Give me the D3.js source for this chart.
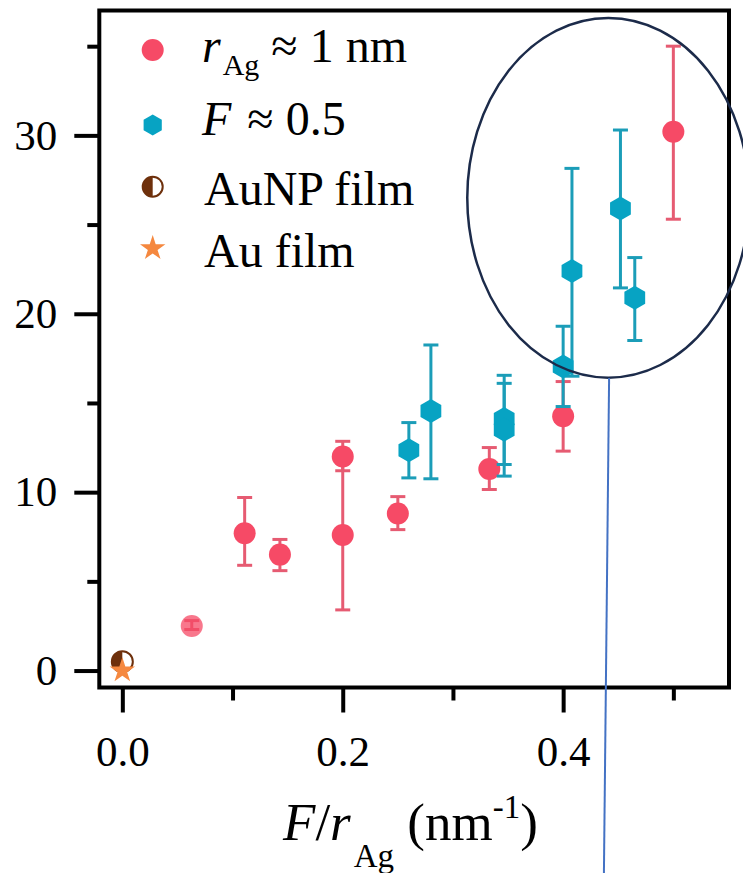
<!doctype html>
<html>
<head>
<meta charset="utf-8">
<style>
    body { margin: 0; background: #fff; }
    text { font-family: "Liberation Serif", "Times New Roman", serif; fill: #000; }
</style>
<script src="https://d3js.org/d3.v7.min.js"></script>
</head>
<body>
<svg width="743" height="873"></svg>
<script>
// r_Ag ~ 1 nm series
var redX  = [0.063, 0.111, 0.143, 0.2, 0.2, 0.25, 0.333, 0.4, 0.5];
var redY  = [2.5, 7.7, 6.5, 12.0, 7.6, 8.8, 11.3, 14.25, 30.2];
var redLo = [2.3, 5.9, 5.6, 11.2, 3.4, 7.9, 10.15, 12.3, 25.3];
var redHi = [2.8, 9.7, 7.35, 12.85, 11.8, 9.75, 12.5, 16.2, 35.0];

// F ~ 0.5 series
var blueX  = [0.26, 0.28, 0.3465, 0.3465, 0.4, 0.408, 0.452, 0.465];
var blueY  = [12.35, 14.55, 14.1, 13.5, 17.05, 22.4, 25.9, 20.9];
var blueLo = [10.8, 10.75, 11.55, 10.9, 14.8, 16.5, 21.45, 18.5];
var blueHi = [13.9, 18.25, 16.55, 16.1, 19.3, 28.15, 30.3, 23.15];

// reference films
var auNP = [0, 0.5];
var auFilm = [0, 0.0];

var xMajor = [0, 0.2, 0.4];
var xMinor = [0.1, 0.3, 0.5];
var yMajor = [0, 10, 20, 30];
var yMinor = [5, 15, 25, 35];

var legendLabels = ["rAg", "F", "AuNP film", "Au film"];

// highlight ellipse + leader line (data units)
var ellipseCenter = [0.441, 26.5];
var ellipseRadius = [0.128, 10.08];
var leaderLine = [[0.4417, 16.4], [0.437, -11.35]];

var svg = d3.select("svg");
var plotL = 99.3, plotR = 729, plotT = 10.5, plotB = 687.5;

var x = d3.scaleLinear().domain([-0.0209, 0.5505]).range([plotL, plotR]);
var y = d3.scaleLinear().domain([-0.95, 37.0]).range([plotB, plotT]);

var RED = "#f64a66", REDBAR = "#e65b72";
var BLUE = "#07a3c3", BLUEBAR = "#1b9db8";
var BROWN = "#6e300c", ORANGE = "#f5883f";

svg.append("rect").attr("width", 743).attr("height", 873).attr("fill", "#fff");

// axes
function styleAxis(g) {
    g.select(".domain").remove();
    g.selectAll(".tick line").attr("stroke", "#000").attr("stroke-width", 4);
}
var gx = svg.append("g").attr("transform", "translate(0," + plotB + ")")
    .call(d3.axisBottom(x).tickValues(xMajor).tickSize(25).tickFormat(d3.format(".1f")))
    .call(styleAxis);
gx.selectAll(".tick text").attr("font-size", 43).attr("y", 78.5).attr("dy", 0)
    .attr("font-family", "Liberation Serif");
svg.append("g").attr("transform", "translate(0," + plotB + ")")
    .call(d3.axisBottom(x).tickValues(xMinor).tickSize(13).tickFormat(""))
    .call(styleAxis);

var gy = svg.append("g").attr("transform", "translate(" + plotL + ",0)")
    .call(d3.axisLeft(y).tickValues(yMajor).tickSize(25).tickPadding(17))
    .call(styleAxis);
gy.selectAll(".tick text").attr("font-size", 43).attr("dy", "0.32em")
    .attr("font-family", "Liberation Serif");
svg.append("g").attr("transform", "translate(" + plotL + ",0)")
    .call(d3.axisLeft(y).tickValues(yMinor).tickSize(12).tickFormat(""))
    .call(styleAxis);

// frame
svg.append("rect").attr("x", plotL).attr("y", plotT)
    .attr("width", plotR - plotL).attr("height", plotB - plotT)
    .attr("fill", "none").attr("stroke", "#000").attr("stroke-width", 4);

// markers
var hexPath = function (r) {
    return d3.line()(d3.range(6).map(function (k) {
        var a = Math.PI / 3 * k - Math.PI / 2;
        return [r * Math.cos(a), r * Math.sin(a)];
    })) + "Z";
};
var starPath = d3.symbol().type(d3.symbolStar).size(200)();

function errorBars(xs, lo, hi, color) {
    var g = svg.append("g").attr("stroke", color).attr("stroke-width", 3).attr("fill", "none");
    xs.forEach(function (xv, i) {
        var cx = x(xv);
        g.append("line").attr("x1", cx).attr("x2", cx).attr("y1", y(lo[i])).attr("y2", y(hi[i]));
        [lo[i], hi[i]].forEach(function (v) {
            g.append("line").attr("x1", cx - 7.5).attr("x2", cx + 7.5).attr("y1", y(v)).attr("y2", y(v));
        });
    });
}

// red series
errorBars(redX, redLo, redHi, REDBAR);
svg.append("g").selectAll("circle").data(redX).join("circle")
    .attr("cx", function (d) { return x(d); })
    .attr("cy", function (d, i) { return y(redY[i]); })
    .attr("r", 11)
    .attr("fill", RED)
    .attr("fill-opacity", function (d, i) {
        // bars shorter than the marker show through it
        return (y(redLo[i]) - y(redHi[i])) < 22 ? 0.75 : 1;
    });

// blue series
errorBars(blueX, blueLo, blueHi, BLUEBAR);
svg.append("g").selectAll("path").data(blueX).join("path")
    .attr("transform", function (d, i) { return "translate(" + x(d) + "," + y(blueY[i]) + ")"; })
    .attr("d", hexPath(12))
    .attr("fill", BLUE);

// AuNP film (half-filled circle)
function halfCircle(g, r) {
    g.append("circle").attr("r", r).attr("fill", "#fff").attr("stroke", BROWN).attr("stroke-width", 2);
    g.append("path").attr("d", "M0," + (-r) + "A" + r + "," + r + " 0 0 0 0," + r + "Z").attr("fill", BROWN);
}
halfCircle(svg.append("g").attr("transform", "translate(" + x(auNP[0]) + "," + y(auNP[1]) + ")"), 10.5);

// Au film star
svg.append("path").attr("d", starPath).attr("fill", ORANGE)
    .attr("transform", "translate(" + x(auFilm[0]) + "," + y(auFilm[1]) + ")");

// legend
var lx = 152.7, tx = 202;
var rowY = [50, 125, 186.7, 248.3];
var base = [61.7, 135, 205, 266.7];
svg.append("circle").attr("cx", lx).attr("cy", rowY[0]).attr("r", 11).attr("fill", RED);
svg.append("path").attr("d", hexPath(10.5)).attr("fill", BLUE)
    .attr("transform", "translate(" + lx + "," + rowY[1] + ")");
halfCircle(svg.append("g").attr("transform", "translate(" + lx + "," + rowY[2] + ")"), 10);
svg.append("path").attr("d", starPath).attr("fill", ORANGE)
    .attr("transform", "translate(" + lx + "," + rowY[3] + ")");

var t1 = svg.append("text").attr("x", tx).attr("y", base[0]).attr("font-size", 48);
t1.append("tspan").attr("font-style", "italic").text("r");
t1.append("tspan").attr("font-size", 30).attr("dy", 13).attr("dx", 2).text("Ag");
t1.append("tspan").attr("dy", -13).text(" \u2248 1 nm");

var t2 = svg.append("text").attr("x", tx).attr("y", base[1]).attr("font-size", 48);
t2.append("tspan").attr("font-style", "italic").text("F");
t2.append("tspan").attr("dx", 4).text(" \u2248 0.5");

svg.append("text").attr("x", tx + 2).attr("y", base[2]).attr("font-size", 48).text(legendLabels[2]);
svg.append("text").attr("x", tx + 2).attr("y", base[3]).attr("font-size", 48).text(legendLabels[3]);

// x axis title
var xt = svg.append("text").attr("x", 283).attr("y", 840).attr("font-size", 53);
xt.append("tspan").attr("font-style", "italic").text("F");
xt.append("tspan").text("/");
xt.append("tspan").attr("font-style", "italic").text("r");
xt.append("tspan").attr("font-size", 33).attr("dy", 27).attr("dx", 3).text("Ag");
xt.append("tspan").attr("dy", -27).text(" (nm");
xt.append("tspan").attr("font-size", 33).attr("dy", -22).text("-1");
xt.append("tspan").attr("dy", 22).text(")");

// annotation
svg.append("ellipse")
    .attr("cx", x(ellipseCenter[0])).attr("cy", y(ellipseCenter[1]))
    .attr("rx", x(ellipseCenter[0] + ellipseRadius[0]) - x(ellipseCenter[0]))
    .attr("ry", y(ellipseCenter[1] - ellipseRadius[1]) - y(ellipseCenter[1]))
    .attr("fill", "none").attr("stroke", "#1c2b4a").attr("stroke-width", 2.5);
svg.append("line")
    .attr("x1", x(leaderLine[0][0])).attr("y1", y(leaderLine[0][1]))
    .attr("x2", x(leaderLine[1][0])).attr("y2", y(leaderLine[1][1]))
    .attr("stroke", "#4472c4").attr("stroke-width", 2);
</script>
</body>
</html>
